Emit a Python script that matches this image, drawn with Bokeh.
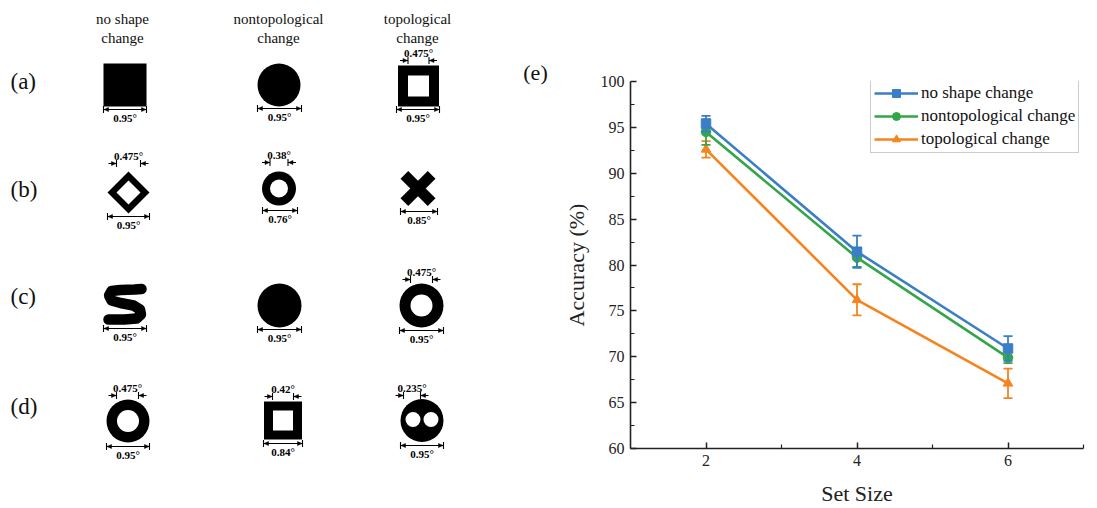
from bokeh.plotting import figure
from bokeh.layouts import row
from bokeh.models import Range1d, FixedTicker, Legend, LegendItem
from bokeh.embed import file_html
from bokeh.resources import INLINE
from bokeh.core.properties import value

SERIF = "Liberation Serif"

# ---------------- data (panel e) ----------------
set_size = [2, 4, 6]
series_names = ["no shape change", "nontopological change", "topological change"]
acc_no_shape = [95.4, 81.45, 70.9]
err_no_shape = [0.85, 1.75, 1.35]
acc_nontopo = [94.5, 80.8, 69.9]
err_nontopo = [1.4, 1.0, 0.6]
acc_topo = [92.6, 76.2, 67.1]
err_topo = [0.9, 1.7, 1.6]
series_colors = ["#3A7EC6", "#34A64A", "#F5841F"]
series_markers = ["square", "circle", "triangle"]
x_ticks = [2, 4, 6]
x_minor = [3, 5, 7]
y_ticks = [60, 65, 70, 75, 80, 85, 90, 95, 100]

# ---------------- panel (a)-(d) texts ----------------
column_headers = [("no shape", "change"), ("nontopological", "change"), ("topological", "change")]
header_x = [122, 278, 417]
row_labels = ["(a)", "(b)", "(c)", "(d)"]
row_label_y = [81, 189, 296, 406]

# shapes (layout, pixel space of the left panel)
filled_squares = [(124.5, 84.5, 43)]
square_rings = [(418, 85.5, 41, 21), (282.5, 420, 38, 20)]
diamond_rings = [(128, 192, 42, 24)]
filled_circles = [(278.5, 84.5, 21.5), (279, 305, 22)]
circle_rings = [(278.5, 188, 17, 9), (421, 305, 22, 11), (127.5, 420.5, 21.5, 11)]
cross_marks = [(417.5, 188, 38.5, 11)]
two_hole_discs = [(421.5, 420, 21.5, 7.5, 9)]
s_path_x = [141, 134, 120, 111, 108.5, 111, 120, 133, 139.5, 140.5, 136, 124, 108]
s_path_y = [288.5, 289, 289.5, 290.5, 295, 300, 302.5, 305, 309, 314, 318, 319, 319]

bottom_dims = [
    (103, 146, 109, "0.95°"), (257, 301, 108, "0.95°"), (396, 439, 109, "0.95°"),
    (107, 149, 216, "0.95°"), (262, 297, 210, "0.76°"), (400, 437, 211, "0.85°"),
    (103, 146, 328, "0.95°"), (257, 301, 329, "0.95°"), (399, 443, 330, "0.95°"),
    (106, 149, 446, "0.95°"), (263, 302, 443, "0.84°"), (400, 443, 445, "0.95°"),
]
top_dims = [
    (407.5, 428.5, 60, "0.475°"),
    (116, 140, 163, "0.475°"), (269.5, 287.5, 162, "0.38°"),
    (410, 432, 279, "0.475°"),
    (116, 138, 395, "0.475°"), (272, 293, 396, "0.42°"), (403, 420, 395, "0.235°"),
]

H = 508
LW = 560

# ================= left figure =================
L = figure(width=LW, height=H, x_range=Range1d(0, LW), y_range=Range1d(H, 0),
           output_backend="svg", toolbar_location=None, min_border=0,
           x_axis_location=None, y_axis_location=None)
L.frame_align = False
L.grid.visible = False
L.outline_line_color = None
L.background_fill_color = "white"
L.border_fill_color = "white"

BLACK = "#000000"
for (cx, cy, s) in filled_squares:
    L.rect(x=[cx], y=[cy], width=[s], height=[s], fill_color=BLACK, line_color=None)
for (cx, cy, so, si) in square_rings:
    L.rect(x=[cx], y=[cy], width=[so], height=[so], fill_color=BLACK, line_color=None)
    L.rect(x=[cx], y=[cy], width=[si], height=[si], fill_color="white", line_color=None)
for (cx, cy, do, di) in diamond_rings:
    L.patches(xs=[[cx - do / 2, cx, cx + do / 2, cx]], ys=[[cy, cy - do / 2, cy, cy + do / 2]],
              fill_color=BLACK, line_color=None)
    L.patches(xs=[[cx - di / 2, cx, cx + di / 2, cx]], ys=[[cy, cy - di / 2, cy, cy + di / 2]],
              fill_color="white", line_color=None)
for (cx, cy, r) in filled_circles:
    L.circle(x=[cx], y=[cy], radius=r, fill_color=BLACK, line_color=None)
for (cx, cy, ro, ri) in circle_rings:
    L.circle(x=[cx], y=[cy], radius=ro, fill_color=BLACK, line_color=None)
    L.circle(x=[cx], y=[cy], radius=ri, fill_color="white", line_color=None)
for (cx, cy, ln, th) in cross_marks:
    L.rect(x=[cx, cx], y=[cy, cy], width=[ln, ln], height=[th, th], angle=[0.785398, -0.785398],
           fill_color=BLACK, line_color=None)
for (cx, cy, r, rh, off) in two_hole_discs:
    L.circle(x=[cx], y=[cy], radius=r, fill_color=BLACK, line_color=None)
    L.circle(x=[cx - off, cx + off], y=[cy - 1, cy - 1], radius=rh, fill_color="white", line_color=None)
L.line(s_path_x, s_path_y, line_color=BLACK, line_width=10.5, line_join="round", line_cap="round")

# dimension lines
sx0, sy0, sx1, sy1 = [], [], [], []
tri_x, tri_y = [], []
tx, ty, tt = [], [], []
for (a, b, y, lab) in bottom_dims:
    sx0 += [a, a, b]; sy0 += [y, y - 3.5, y - 3.5]; sx1 += [b, a, b]; sy1 += [y, y + 3.5, y + 3.5]
    tri_x += [[a + 0.5, a + 5, a + 5], [b - 0.5, b - 5, b - 5]]
    tri_y += [[y, y - 2, y + 2], [y, y - 2, y + 2]]
    tx.append((a + b) / 2); ty.append(y + 8); tt.append(lab)
for (a, b, y, lab) in top_dims:
    sx0 += [a - 8, b, a, b]; sy0 += [y, y, y - 3.5, y - 3.5]
    sx1 += [a, b + 8, a, b]; sy1 += [y, y, y + 3.5, y + 3.5]
    tri_x += [[a - 0.5, a - 5, a - 5], [b + 0.5, b + 5, b + 5]]
    tri_y += [[y, y - 2, y + 2], [y, y - 2, y + 2]]
    tx.append((a + b) / 2); ty.append(y - 8); tt.append(lab)
L.segment(x0=sx0, y0=sy0, x1=sx1, y1=sy1, line_color=BLACK, line_width=1.1)
L.patches(xs=tri_x, ys=tri_y, fill_color=BLACK, line_color=BLACK, line_width=0.5)
L.text(x=tx, y=ty, text=tt, text_font=value(SERIF), text_font_size="11px",
       text_font_style="bold", text_align="center", text_baseline="middle", text_color=BLACK)

# headers and row labels
hx, hy, ht = [], [], []
for (l1, l2), x in zip(column_headers, header_x):
    hx += [x, x]; hy += [18, 37]; ht += [l1, l2]
L.text(x=hx, y=hy, text=ht, text_font=value(SERIF), text_font_size="15px",
       text_align="center", text_baseline="middle", text_color="#111111")
L.text(x=[10] * 4, y=row_label_y, text=row_labels, text_font=value(SERIF), text_font_size="23px",
       text_align="left", text_baseline="middle", text_color="#111111")
L.text(x=[535], y=[72], text=["(e)"], text_font=value(SERIF), text_font_size="22px",
       text_align="center", text_baseline="middle", text_color="#111111")

# ================= right figure (e) =================
p = figure(width=1097 - LW, height=H, x_range=Range1d(1, 7), y_range=Range1d(60, 100),
           output_backend="svg", toolbar_location=None,
           min_border_left=627 - LW, min_border_right=1097 - 1083, min_border_top=81,
           min_border_bottom=H - 448)
p.frame_align = False
p.grid.visible = False
p.outline_line_color = None

p.xaxis.ticker = FixedTicker(ticks=x_ticks, minor_ticks=x_minor)
p.yaxis.ticker = FixedTicker(ticks=y_ticks, minor_ticks=[t + 2.5 for t in y_ticks[:-1]])
p.xaxis.axis_label = "Set Size"
p.yaxis.axis_label = "Accuracy (%)"
for ax in (p.xaxis[0], p.yaxis[0]):
    ax.axis_line_width = 1.6
    ax.axis_line_color = "#222222"
    ax.major_tick_in = 6
    ax.major_tick_out = 0
    ax.minor_tick_in = 4
    ax.minor_tick_out = 0
    ax.major_tick_line_width = 1.5
    ax.minor_tick_line_width = 1.2
    ax.major_tick_line_color = "#222222"
    ax.minor_tick_line_color = "#222222"
    ax.major_label_text_font = SERIF
    ax.major_label_text_font_size = "16px"
    ax.major_label_text_color = "#222222"
    ax.axis_label_text_font = SERIF
    ax.axis_label_text_font_style = "normal"
    ax.axis_label_text_font_size = "22px"
    ax.axis_label_text_color = "#222222"
p.yaxis.major_label_standoff = 6
p.yaxis.axis_label_standoff = 9
p.xaxis.major_label_standoff = 6
p.xaxis.axis_label_standoff = 12

series = [(acc_no_shape, err_no_shape), (acc_nontopo, err_nontopo), (acc_topo, err_topo)]
items = [None, None, None]
for i in (2, 1, 0):
    acc, err = series[i]
    c = series_colors[i]
    lo = [a - e for a, e in zip(acc, err)]
    hi = [a + e for a, e in zip(acc, err)]
    ln = p.line(set_size, acc, line_color=c, line_width=2.6)
    p.segment(x0=set_size, y0=lo, x1=set_size, y1=hi, line_color=c, line_width=1.8)
    p.segment(x0=[x - 0.06 for x in set_size], y0=hi, x1=[x + 0.06 for x in set_size], y1=hi,
              line_color=c, line_width=1.8)
    p.segment(x0=[x - 0.06 for x in set_size], y0=lo, x1=[x + 0.06 for x in set_size], y1=lo,
              line_color=c, line_width=1.8)
    mk = p.scatter(set_size, acc, marker=series_markers[i], size=9.5, fill_color=c, line_color=c)
    items[i] = LegendItem(label=series_names[i], renderers=[ln, mk])

legend = Legend(items=items, location=(240, 448 - 153))
legend.label_text_font = SERIF
legend.label_text_font_size = "17px"
legend.label_text_color = "#111111"
legend.glyph_width = 44
legend.glyph_height = 20
legend.label_height = 20
legend.label_standoff = 3
legend.spacing = 3
legend.padding = 3
legend.margin = 0
legend.border_line_color = "#999999"
legend.border_line_width = 1
legend.background_fill_alpha = 1.0
p.add_layout(legend)

layout = row(L, p)
open("out.html", "w").write(file_html(layout, INLINE))
